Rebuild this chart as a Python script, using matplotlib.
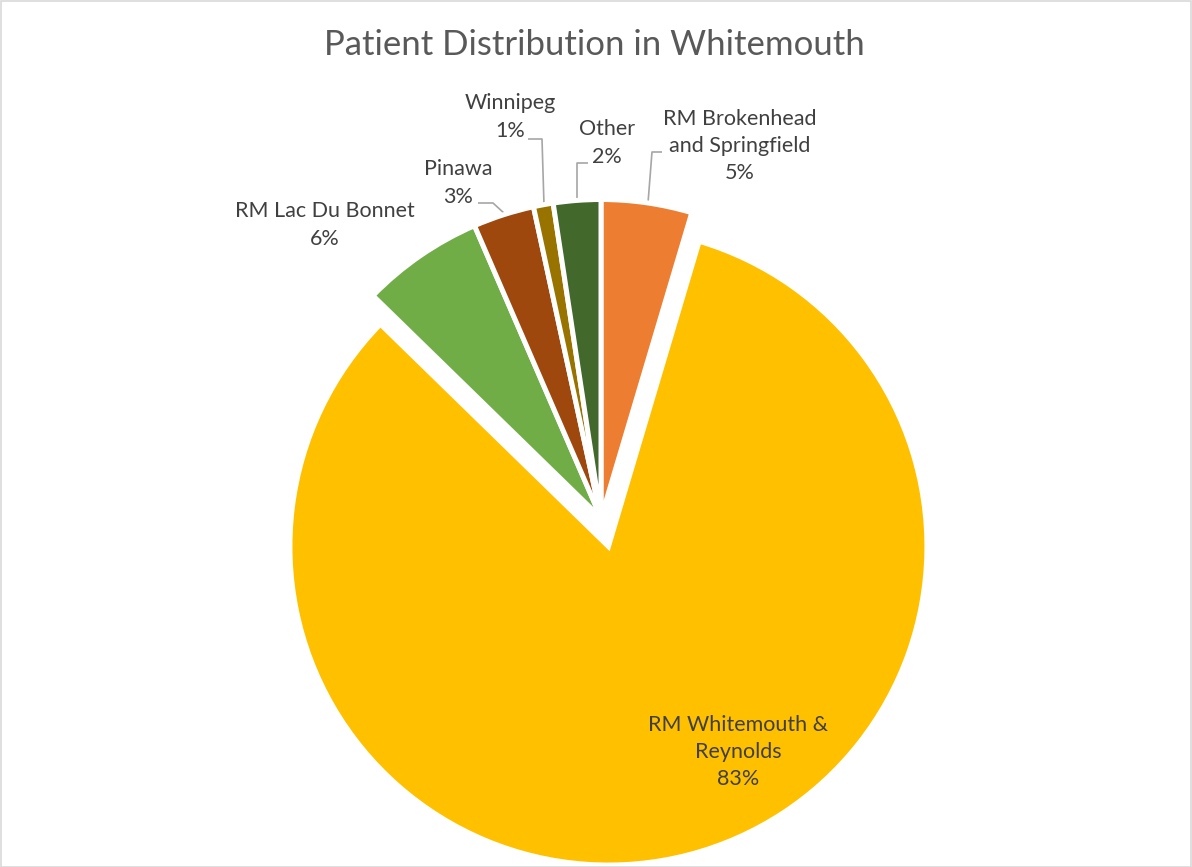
import matplotlib
matplotlib.use("Agg")
import matplotlib.pyplot as plt
from matplotlib.patches import Rectangle
import numpy as np

# ---- data ----
categories = ["RM Brokenhead\nand Springfield", "RM Whitemouth &\nReynolds",
              "RM Lac Du Bonnet", "Pinawa", "Winnipeg", "Other"]
shares = [4.6, 82.7, 6.2, 3.1, 1.0, 2.4]
colors = ["#ED7D31", "#FFC000", "#70AD47", "#9E480E", "#997300", "#43682B"]
title = "Patient Distribution in Whitemouth"

W, H = 1192, 867
fig = plt.figure(figsize=(W / 100, H / 100), dpi=100)
ax = fig.add_axes([0, 0, 1, 1])

def P(x, y):
    # image pixel coords (y from top) -> data coords
    return (x, H - y)

center = P(601, 518)
radius = 318.5
explode = [0, 29.5, 0, 0, 0, 0]

wedges, _ = ax.pie(shares, colors=colors, startangle=90, counterclock=False,
                   center=center, radius=radius, explode=explode,
                   wedgeprops=dict(edgecolor="white", linewidth=3.6))

ax.set_xlim(0, W)
ax.set_ylim(0, H)
ax.set_aspect("auto")
ax.axis("off")

pct = [f"{round(v):.0f}%" for v in shares]
txt_color = "#404040"
fs = 15.5
fam = ["Lato", "DejaVu Sans"]

label_pos = [(740, 146), (738, 752), (325, 225), (458, 183), (510, 117), (607, 143)]
for name, p, (lx, ly) in zip(categories, pct, label_pos):
    ax.text(*P(lx, ly), f"{name}\n{p}", ha="center", va="center",
            fontsize=fs, color=txt_color, family=fam, linespacing=1.45)

leaders = [
    [(648, 203), (652, 152), (662, 152)],
    [(577, 201), (577, 163), (588, 163)],
    [(544, 205), (542, 139), (528, 139)],
    [(505, 214), (493, 203), (478, 203)],
]
for pts in leaders:
    xs = [P(*q)[0] for q in pts]
    ys = [P(*q)[1] for q in pts]
    ax.plot(xs, ys, color="#A6A6A6", lw=1.2, solid_capstyle="butt", zorder=0.5)

fig.text(594 / W, 1 - 45 / H, title, ha="center", va="center",
         fontsize=25, color="#595959", family=fam, fontweight="normal")

fig.patches.append(Rectangle((0.5 / W, 0.5 / H), 1 - 1.5 / W, 1 - 1.5 / H,
                             transform=fig.transFigure, fill=False,
                             edgecolor="#D9D9D9", lw=1.2))

fig.savefig("out.png", dpi=100)
